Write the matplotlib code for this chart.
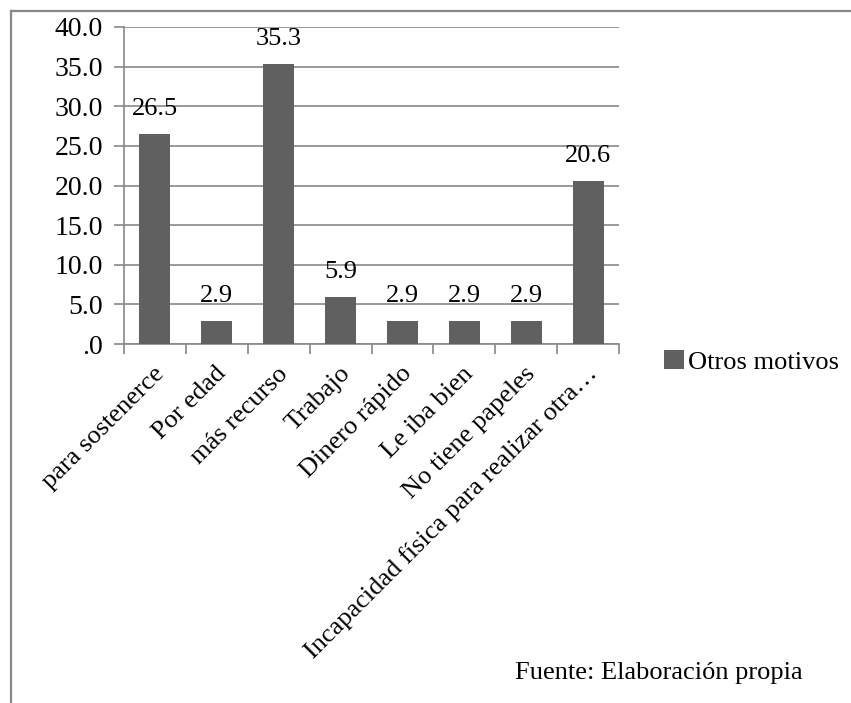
import matplotlib
matplotlib.use('Agg')
import matplotlib.pyplot as plt
from matplotlib.lines import Line2D
from matplotlib.ticker import FuncFormatter, MultipleLocator
from matplotlib.transforms import ScaledTranslation
import numpy as np

plt.rcParams['font.family'] = ['Liberation Serif', 'DejaVu Serif']

# Porcentaje por motivo
motivos = ['para sostenerce', 'Por edad', 'más recurso', 'Trabajo',
           'Dinero rápido', 'Le iba bien', 'No tiene papeles',
           'Incapacidad física para realizar otra…']
valores = [26.5, 2.9, 35.3, 5.9, 2.9, 2.9, 2.9, 20.6]
serie = 'Otros motivos'

gris_barra = '#606060'
gris_linea = '#878787'
fs = 19

W, H = 851, 703
fig = plt.figure(figsize=(W / 100, H / 100), dpi=100)
ax = fig.add_axes([124 / W, 1 - 344 / H, (619 - 124) / W, (344 - 27) / H])

x = np.arange(len(motivos))
barras = ax.bar(x, valores, width=0.5, color=gris_barra, label=serie, zorder=3)

for xi, v in zip(x, valores):
    ax.annotate(f'{v:.1f}', (xi, v), xytext=(0, 18), textcoords='offset points',
                ha='center', va='center', fontsize=fs)

ax.set_xlim(-0.5, len(motivos) - 0.5)
ax.set_ylim(0, 40)
ax.yaxis.set_major_locator(MultipleLocator(5))
ax.yaxis.set_major_formatter(FuncFormatter(lambda v, p: '.0' if v == 0 else f'{v:.1f}'))
ax.yaxis.grid(True, color=gris_linea, linewidth=1.2, zorder=0)
ax.set_axisbelow(True)

# marcas entre categorías, etiquetas al centro
ax.set_xticks(np.arange(-0.5, len(motivos)), minor=False)
ax.set_xticklabels([])
ax.set_xticks(x, minor=True)
ax.set_xticklabels(motivos, minor=True, rotation=45, ha='right', va='center',
                   rotation_mode='anchor', fontsize=fs)
ax.tick_params(axis='x', which='minor', length=0, pad=19)
ax.tick_params(axis='x', which='major', length=7, width=1.2, color=gris_linea)
ax.tick_params(axis='y', length=7, width=1.2, color=gris_linea, labelsize=20, pad=8)

desplaza = ScaledTranslation(6 / 100, 0, fig.dpi_scale_trans)
for lbl in ax.get_xticklabels(minor=True):
    lbl.set_transform(lbl.get_transform() + desplaza)

for lado in ['top', 'right']:
    ax.spines[lado].set_visible(False)
for lado in ['left', 'bottom']:
    ax.spines[lado].set_color(gris_linea)
    ax.spines[lado].set_linewidth(1.2)

fig.legend(handles=[barras], labels=[serie], loc='center left',
           bbox_to_anchor=(664 / W, 1 - 362 / H), frameon=False, fontsize=fs,
           handlelength=0.75, handleheight=0.75, handletextpad=0.15,
           borderpad=0, borderaxespad=0)

fig.text(515 / W, 1 - 673 / H, 'Fuente: Elaboración propia', fontsize=fs,
         ha='left', va='center')

# borde del área del gráfico
fig.add_artist(Line2D([11 / W, 11 / W], [0, 1 - 10.5 / H], color='#888888', linewidth=1.6))
fig.add_artist(Line2D([11 / W, 1], [1 - 10.5 / H, 1 - 10.5 / H], color='#888888', linewidth=1.6))

fig.savefig('out.png', dpi=100, facecolor='white')
